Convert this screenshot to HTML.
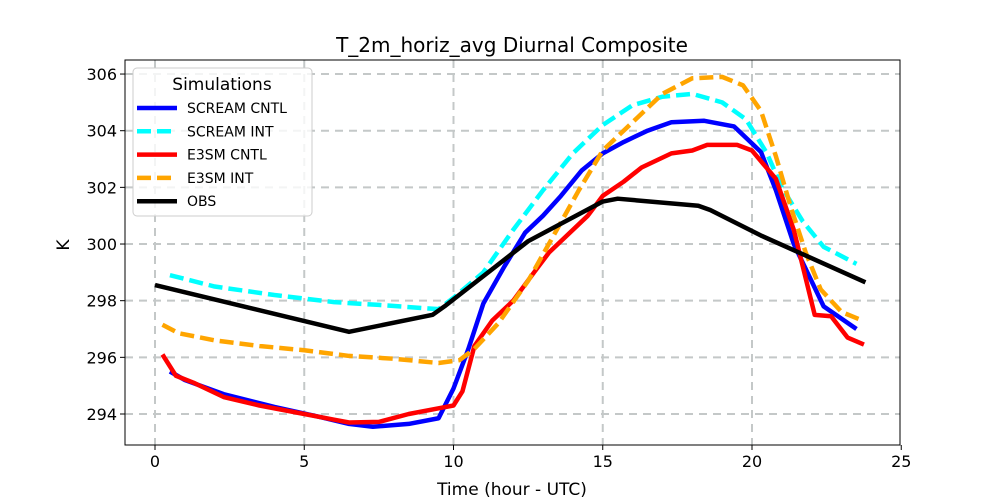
<!DOCTYPE html>
<html><head><meta charset="utf-8"><style>
body{margin:0;background:#fff;}
svg{display:block;font-family:"DejaVu Sans","Liberation Sans",sans-serif;}
</style></head><body>
<svg id="chart" width="1000" height="500">
<rect width="1000" height="500" fill="#fff"/>
<g id="grid"></g><g id="series"></g><g id="axes"></g><g id="legend"></g>
</svg>
<script>
const xTicks=[0,5,10,15,20,25];
const yTicks=[294,296,298,300,302,304,306];
const screamCntlX=[0.5,1,2.3,4,5.5,6.5,7.3,8.5,9.5,10,10.5,11,11.7,12.4,13,13.6,14.3,15,15.7,16.5,17.3,18.4,19.4,20.3,20.8,21.4,22.4,23.5];
const screamCntlY=[295.5,295.2,294.7,294.25,293.9,293.65,293.55,293.65,293.85,294.9,296.3,297.9,299.2,300.4,301.0,301.7,302.6,303.2,303.6,304.0,304.3,304.35,304.15,303.25,301.9,300.0,297.8,297.0];
const screamIntX=[0.5,2,4,6,7.5,9.5,10,11,12,13,14,15,16,17,18,19,19.8,20.5,21,21.7,22.4,23.5];
const screamIntY=[298.9,298.5,298.2,297.95,297.85,297.7,298.1,299.0,300.5,301.9,303.2,304.2,304.9,305.2,305.3,305.0,304.4,303.2,302.0,300.8,299.9,299.3];
const e3smCntlX=[0.25,0.7,1.3,2.3,3.5,5,6,6.5,7.5,8.5,9.5,10,10.3,10.7,11.3,12,12.7,13.2,13.8,14.5,15,15.7,16.3,17.3,18,18.5,19.5,20,20.8,21.4,22.1,22.65,23.2,23.75];
const e3smCntlY=[296.1,295.35,295.1,294.6,294.3,294.0,293.8,293.7,293.72,294.0,294.2,294.3,294.8,296.4,297.3,298.0,299.0,299.7,300.3,301.0,301.7,302.2,302.7,303.2,303.3,303.5,303.5,303.3,302.3,300.5,297.5,297.45,296.7,296.45];
const e3smIntX=[0.25,0.8,2,3.5,5,6.5,8,9.5,10.2,10.7,11.5,12.5,13.3,14.2,15,16,17,18,19,19.7,20.3,20.8,21.3,21.8,22.3,23,23.7];
const e3smIntY=[297.15,296.85,296.6,296.4,296.25,296.05,295.95,295.8,295.9,296.3,297.2,298.7,300.2,301.9,303.3,304.3,305.3,305.85,305.9,305.6,304.7,303.1,301.3,299.7,298.4,297.6,297.3];
const obsX=[0,6.5,9.3,9.7,12.5,15,15.5,18.2,18.6,20.3,23.8];
const obsY=[298.55,296.9,297.5,297.8,300.1,301.5,301.6,301.35,301.2,300.3,298.65];
const seriesNames=["SCREAM CNTL","SCREAM INT","E3SM CNTL","E3SM INT","OBS"];

const L=125,R=900,T=60,B=445;
const sx=v=>155+v*29.85;
const sy=v=>414-(v-294)*28.33;
const NS="http://www.w3.org/2000/svg";
function mk(tag,attrs,parent){const e=document.createElementNS(NS,tag);for(const k in attrs)e.setAttribute(k,attrs[k]);parent.appendChild(e);return e;}
const grid=document.getElementById('grid'),ser=document.getElementById('series'),axes=document.getElementById('axes'),leg=document.getElementById('legend');
xTicks.forEach(t=>{const x=sx(t);
 if(t<25){const g=mk('line',{x1:x,x2:x,y1:T,y2:B,stroke:'#c4c8c8','stroke-width':2,'stroke-dasharray':'8,6'},grid);
 
 }
 mk('line',{x1:x,x2:x,y1:B,y2:B+5,stroke:'#000'},axes);
 const tx=mk('text',{x:x,y:B+22,'text-anchor':'middle','font-size':16},axes);tx.textContent=t;
 
 });
yTicks.forEach(t=>{const y=sy(t);
 const g=mk('line',{x1:L,x2:R,y1:y,y2:y,stroke:'#c4c8c8','stroke-width':2,'stroke-dasharray':'8,6'},grid);
 
 
 mk('line',{x1:L-5,x2:L,y1:y,y2:y,stroke:'#000'},axes);
 const tx=mk('text',{x:L-8,y:y+6,'text-anchor':'end','font-size':16},axes);tx.textContent=t;
 
 });
const styles=[
 {x:screamCntlX,y:screamCntlY,c:'#0000ff',d:'',n:'scream-cntl-line'},
 {x:screamIntX,y:screamIntY,c:'#00ffff',d:'14,6',n:'scream-int-line'},
 {x:e3smCntlX,y:e3smCntlY,c:'#ff0000',d:'',n:'e3sm-cntl-line'},
 {x:e3smIntX,y:e3smIntY,c:'#ffa500',d:'14,6',n:'e3sm-int-line'},
 {x:obsX,y:obsY,c:'#000000',d:'',n:'obs-line'}];
styles.forEach(s=>{const pts=s.x.map((v,i)=>sx(v)+','+sy(s.y[i])).join(' ');
 const p=mk('polyline',{points:pts,fill:'none',stroke:s.c,'stroke-width':4.5,'stroke-dasharray':s.d,'stroke-linejoin':'round'},ser);
 
 });
const fr=mk('rect',{x:L,y:T,width:R-L,height:B-T,fill:'none',stroke:'#000','stroke-width':1},axes);


const title=mk('text',{x:512,y:52,'text-anchor':'middle','font-size':20},axes);title.textContent='T_2m_horiz_avg Diurnal Composite';


const xl=mk('text',{x:512,y:495,'text-anchor':'middle','font-size':17},axes);xl.textContent='Time (hour - UTC)';


const yl=mk('text',{x:0,y:0,'text-anchor':'middle','font-size':17,transform:'translate(69,245) rotate(-90)'},axes);yl.textContent='K';


const lb=mk('rect',{x:133,y:68,width:179,height:148,rx:4,fill:'#fff','fill-opacity':0.8,stroke:'#ccc'},leg);


const lt=mk('text',{x:222,y:90,'text-anchor':'middle','font-size':17},leg);lt.textContent='Simulations';


styles.forEach((s,i)=>{const y=108+i*23.3;
 const ln=mk('line',{x1:137,x2:177,y1:y,y2:y,stroke:s.c,'stroke-width':4.5,'stroke-dasharray':s.d},leg);
 
 
 const t=mk('text',{x:187,y:y+5,'font-size':14},leg);t.textContent=seriesNames[i];
 
 });
</script>
</body></html>
